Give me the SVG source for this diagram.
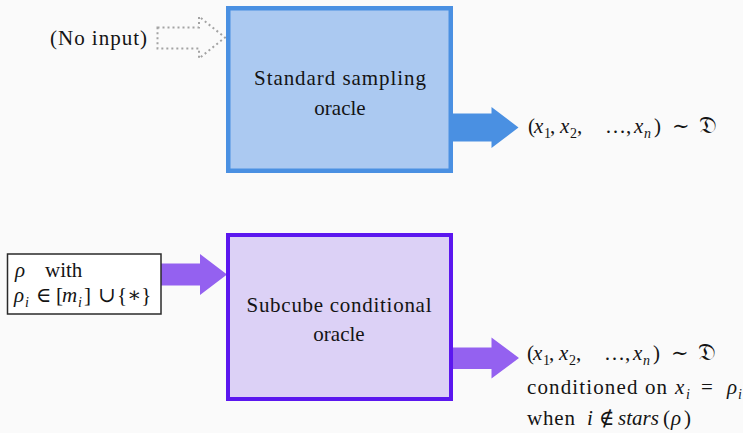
<svg xmlns="http://www.w3.org/2000/svg" width="743" height="433" viewBox="0 0 743 433">
  <style>
    text { font-family: "Liberation Serif", "Times New Roman", "DejaVu Serif", serif; font-size: 21px; fill: #141414; }
    .it { font-style: italic; }
    .sub { font-size: 14px; }
    .frak { font-size: 24px; }
    .lbl { text-anchor: middle; }
    .blue-box { fill: #abc9f1; stroke: #4a90e2; stroke-width: 4.5; }
    .purple-box { fill: #dcd1f6; stroke: #5b17ef; stroke-width: 4; }
    .query-box { fill: #ffffff; stroke: #2a2a2a; stroke-width: 1.5; }
    .blue-arrow { fill: #4a90e2; }
    .purple-arrow { fill: #9461f0; }
    .empty-arrow { fill: none; stroke: #a3a3a3; stroke-width: 2; stroke-dasharray: 2 3; }
  </style>
  <rect width="743" height="433" fill="#fafafa"/>

  <!-- connectors -->
  <g id="connectors">
    <polygon class="empty-arrow" points="157.5,27.5 199,27.5 199,16.5 225,37.5 199,58.5 199,48.5 157.5,48.5"/>
    <polygon class="blue-arrow" points="452,113.5 491.5,113.5 491.5,107 518.5,127.5 491.5,148 491.5,141.5 452,141.5"/>
    <polygon class="purple-arrow" points="161,263.5 200,263.5 200,254 227,274.5 200,295 200,285.5 161,285.5"/>
    <polygon class="purple-arrow" points="452,347.5 491.5,347.5 491.5,337.5 519,358 491.5,378.5 491.5,369 452,369"/>
  </g>

  <!-- no-input label -->
  <g id="no-input">
    <text x="50" y="45" textLength="97">(No input)</text>
  </g>

  <!-- standard sampling oracle -->
  <g id="standard-oracle">
    <rect class="blue-box" x="228.25" y="8.25" width="222.5" height="162.5"/>
    <text class="lbl" x="340" y="85" textLength="172">Standard sampling</text>
    <text class="lbl" x="340" y="115">oracle</text>
  </g>

  <!-- standard oracle output -->
  <g id="standard-output">
    <text y="133">
      <tspan x="528">(</tspan><tspan class="it" x="534">x</tspan><tspan class="sub" x="544" y="138">1</tspan><tspan x="550" y="133">,</tspan>
      <tspan class="it" x="560">x</tspan><tspan class="sub" x="570" y="138">2</tspan><tspan x="577" y="133">,</tspan>
      <tspan x="605">…</tspan><tspan x="626">,</tspan>
      <tspan class="it" x="634">x</tspan><tspan class="sub it" x="644" y="138">n</tspan><tspan x="654" y="133">)</tspan>
      <tspan x="672">∼</tspan><tspan class="frak" x="699">𝔇</tspan>
    </text>
  </g>

  <!-- query restriction input -->
  <g id="query-input">
    <rect class="query-box" x="7.5" y="254" width="153.5" height="60"/>
    <text y="277"><tspan class="it" x="15">ρ</tspan><tspan x="45">with</tspan></text>
    <text y="302">
      <tspan class="it" x="14">ρ</tspan><tspan class="sub it" x="25" y="307">i</tspan>
      <tspan x="36" y="302">∈</tspan><tspan x="56">[</tspan><tspan class="it" x="62">m</tspan><tspan class="sub it" x="78" y="307">i</tspan><tspan x="84" y="302">]</tspan>
      <tspan x="98">∪</tspan><tspan x="117">{∗}</tspan>
    </text>
  </g>

  <!-- subcube conditional oracle -->
  <g id="subcube-oracle">
    <rect class="purple-box" x="228" y="235" width="223" height="164"/>
    <text class="lbl" x="339" y="312" textLength="185">Subcube conditional</text>
    <text class="lbl" x="339" y="341">oracle</text>
  </g>

  <!-- subcube oracle output -->
  <g id="subcube-output">
    <text y="360">
      <tspan x="527">(</tspan><tspan class="it" x="533">x</tspan><tspan class="sub" x="543" y="365">1</tspan><tspan x="549" y="360">,</tspan>
      <tspan class="it" x="559">x</tspan><tspan class="sub" x="569" y="365">2</tspan><tspan x="576" y="360">,</tspan>
      <tspan x="604">…</tspan><tspan x="625">,</tspan>
      <tspan class="it" x="633">x</tspan><tspan class="sub it" x="643" y="365">n</tspan><tspan x="653" y="360">)</tspan>
      <tspan x="671">∼</tspan><tspan class="frak" x="698">𝔇</tspan>
    </text>
    <text y="394">
      <tspan x="527" textLength="140">conditioned on</tspan>
      <tspan class="it" x="675">x</tspan><tspan class="sub it" x="686" y="399">i</tspan>
      <tspan x="701" y="394">=</tspan>
      <tspan class="it" x="727">ρ</tspan><tspan class="sub it" x="738" y="399">i</tspan>
    </text>
    <text y="425">
      <tspan x="527" textLength="48">when</tspan>
      <tspan class="it" x="587">i</tspan>
      <tspan x="599">∉</tspan>
      <tspan class="it" x="618">stars</tspan><tspan x="663">(</tspan><tspan class="it" x="671">ρ</tspan><tspan x="684">)</tspan>
    </text>
  </g>
</svg>
